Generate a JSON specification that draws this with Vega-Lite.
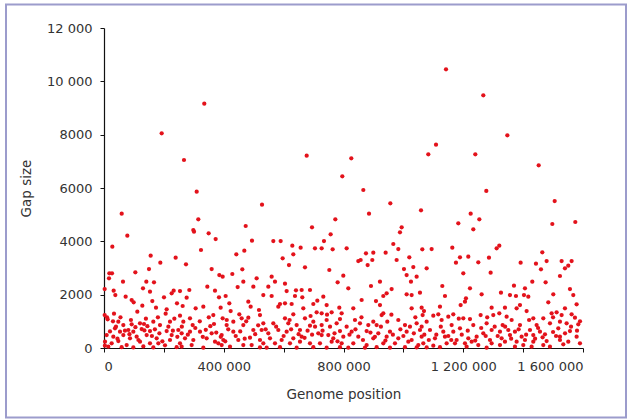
{
  "$schema": "https://vega.github.io/schema/vega-lite/v6.json",
  "width": 479,
  "height": 320,
  "autosize": {"type": "none"},
  "padding": {"left": 104, "top": 28, "right": 45, "bottom": 72},
  "background": "white",
  "config": {
    "view": {"stroke": null},
    "axis": {
      "labelFont": "DejaVu Sans", "labelFontSize": 13, "labelColor": "#333333",
      "titleFont": "DejaVu Sans", "titleFontSize": 13.5, "titleFontWeight": "normal", "titleColor": "#333333",
      "domainColor": "#111111", "domainWidth": 1.2, "tickColor": "#111111", "tickSize": 4, "grid": false
    }
  },
  "layer": [
    {
      "data": {"values": [{"frame": 1}]},
      "mark": {"type": "rect", "filled": false, "stroke": "#9c9ccc", "strokeWidth": 2, "clip": false},
      "encoding": {
        "x": {"datum": -327350, "type": "quantitative", "scale": {"domain": [0, 1600000], "nice": false},
          "axis": {"title": "Genome position", "values": [0, 200000, 400000, 600000, 800000, 1000000, 1200000, 1400000, 1600000], "labelExpr": "datum.value % 400000 == 0 ? replace(format(datum.value, ','), regexp(',', 'g'), ' ') : ''", "labelPadding": 8, "titlePadding": 14, "labelOverlap": false}},
        "x2": {"datum": 1743640},
        "y": {"datum": 12881, "type": "quantitative", "scale": {"domain": [0, 12000], "nice": false},
          "axis": {"title": "Gap size", "values": [0, 2000, 4000, 6000, 8000, 10000, 12000], "labelExpr": "datum.value >= 10000 ? replace(format(datum.value, ','), regexp(',', 'g'), ' ') : format(datum.value, 'd')", "labelPadding": 8, "titlePadding": 13}},
        "y2": {"datum": -2606}
      }
    },
    {
      "data": {"values": [
        {"pos":335000,"gap":9161},{"pos":192700,"gap":8050},{"pos":267200,"gap":7050},{"pos":309600,"gap":5862},{"pos":59100,"gap":5036},{"pos":315000,"gap":4826},{"pos":473300,"gap":4575},{"pos":527800,"gap":5375},{"pos":677000,"gap":7212},{"pos":796000,"gap":6438},{"pos":772700,"gap":4826},{"pos":694800,"gap":4525},{"pos":298300,"gap":4425},{"pos":1142400,"gap":10450},{"pos":1267000,"gap":9475},{"pos":1347200,"gap":7975},{"pos":1109000,"gap":7625},{"pos":1083300,"gap":7262},{"pos":1240300,"gap":7262},{"pos":826000,"gap":7112},{"pos":1452000,"gap":6850},{"pos":866200,"gap":5925},{"pos":1277000,"gap":5888},{"pos":956400,"gap":5425},{"pos":1505400,"gap":5512},{"pos":885200,"gap":5037},{"pos":1058900,"gap":5162},{"pos":1224800,"gap":5037},{"pos":1253700,"gap":4826},{"pos":1183500,"gap":4675},{"pos":994300,"gap":4525},{"pos":1497500,"gap":4650},{"pos":1574300,"gap":4725},{"pos":1233600,"gap":4450},
        {"pos":77930,"gap":4212},{"pos":27830,"gap":3800},{"pos":155860,"gap":3462},{"pos":239360,"gap":3387},{"pos":188150,"gap":3200},{"pos":150290,"gap":2962},{"pos":104650,"gap":2837},{"pos":17810,"gap":2800},{"pos":26720,"gap":2800},{"pos":16700,"gap":2612},{"pos":63460,"gap":2487},{"pos":141390,"gap":2487},{"pos":167000,"gap":2462},{"pos":130250,"gap":2237},{"pos":2230,"gap":2212},{"pos":32290,"gap":2150},{"pos":153640,"gap":2112},{"pos":232680,"gap":2150},{"pos":226000,"gap":2050},{"pos":253830,"gap":2137},{"pos":37850,"gap":1987},{"pos":72360,"gap":1925},{"pos":200400,"gap":1900},{"pos":92400,"gap":1800},{"pos":99080,"gap":1712},{"pos":128020,"gap":1587},{"pos":161420,"gap":1762},{"pos":243810,"gap":1675},{"pos":262740,"gap":1575},{"pos":173670,"gap":1512},{"pos":209300,"gap":1450},{"pos":111330,"gap":1362},{"pos":2230,"gap":1237},{"pos":33400,"gap":1287},{"pos":205960,"gap":1287},{"pos":253830,"gap":1212},{"pos":12250,"gap":1075},{"pos":47870,"gap":987},{"pos":64570,"gap":862},{"pos":92400,"gap":887},{"pos":120240,"gap":925},{"pos":133600,"gap":900},{"pos":164770,"gap":987},{"pos":187030,"gap":862},{"pos":220430,"gap":987},{"pos":264970,"gap":987},{"pos":36740,"gap":737},{"pos":53440,"gap":612},{"pos":81270,"gap":675},{"pos":97970,"gap":612},{"pos":125800,"gap":712},{"pos":153640,"gap":637},{"pos":209300,"gap":637},{"pos":248260,"gap":675},{"pos":8900,"gap":487},{"pos":31170,"gap":425},{"pos":64570,"gap":487},{"pos":86840,"gap":362},{"pos":109100,"gap":425},{"pos":142500,"gap":487},{"pos":175900,"gap":362},{"pos":226000,"gap":487},{"pos":259400,"gap":550},{"pos":3340,"gap":237},{"pos":25610,"gap":175},{"pos":47870,"gap":262},{"pos":75700,"gap":112},{"pos":120240,"gap":237},{"pos":153640,"gap":175},{"pos":181470,"gap":175},{"pos":220430,"gap":300},{"pos":253830,"gap":175},{"pos":14470,"gap":50},{"pos":58990,"gap":30},{"pos":97970,"gap":20},{"pos":131370,"gap":60},{"pos":164770,"gap":20},{"pos":203730,"gap":100},{"pos":242700,"gap":30},{"pos":3000,"gap":87},
        {"pos":300600,"gap":4362},{"pos":349580,"gap":4300},{"pos":372960,"gap":4087},{"pos":494310,"gap":4025},{"pos":323980,"gap":3675},{"pos":441990,"gap":3512},{"pos":468710,"gap":3650},{"pos":273880,"gap":3137},{"pos":359600,"gap":2962},{"pos":385210,"gap":2737},{"pos":396340,"gap":2675},{"pos":428630,"gap":2775},{"pos":462030,"gap":2950},{"pos":509900,"gap":2612},{"pos":345130,"gap":2300},{"pos":370740,"gap":2150},{"pos":446440,"gap":2287},{"pos":465370,"gap":2487},{"pos":498770,"gap":2300},{"pos":285010,"gap":2175},{"pos":532170,"gap":1987},{"pos":276100,"gap":1887},{"pos":384100,"gap":1900},{"pos":406360,"gap":1950},{"pos":306170,"gap":1487},{"pos":331770,"gap":1550},{"pos":389660,"gap":1512},{"pos":418610,"gap":1675},{"pos":423060,"gap":1387},{"pos":482070,"gap":1737},{"pos":489860,"gap":1550},{"pos":517700,"gap":1425},{"pos":287240,"gap":1112},{"pos":365170,"gap":1237},{"pos":396340,"gap":1112},{"pos":452000,"gap":1262},{"pos":459800,"gap":1112},{"pos":482070,"gap":1137},{"pos":521040,"gap":1237},{"pos":296150,"gap":862},{"pos":367400,"gap":900},{"pos":409700,"gap":862},{"pos":431970,"gap":987},{"pos":465370,"gap":862},{"pos":532170,"gap":925},{"pos":287240,"gap":612},{"pos":320640,"gap":612},{"pos":359600,"gap":550},{"pos":393000,"gap":487},{"pos":431970,"gap":612},{"pos":498770,"gap":675},{"pos":526600,"gap":675},{"pos":270540,"gap":362},{"pos":298370,"gap":300},{"pos":342900,"gap":362},{"pos":370740,"gap":237},{"pos":398570,"gap":300},{"pos":448670,"gap":300},{"pos":487630,"gap":387},{"pos":521040,"gap":300},{"pos":259400,"gap":50},{"pos":292800,"gap":112},{"pos":331770,"gap":10},{"pos":381870,"gap":175},{"pos":393000,"gap":112},{"pos":420840,"gap":50},{"pos":465370,"gap":112},{"pos":493200,"gap":112},{"pos":521040,"gap":20},
        {"pos":757060,"gap":4262},{"pos":565570,"gap":4012},{"pos":590060,"gap":4012},{"pos":734790,"gap":4012},{"pos":629030,"gap":3837},{"pos":656860,"gap":3762},{"pos":704730,"gap":3737},{"pos":727000,"gap":3737},{"pos":763740,"gap":3700},{"pos":632370,"gap":3512},{"pos":596740,"gap":3362},{"pos":617900,"gap":3112},{"pos":671340,"gap":3025},{"pos":752610,"gap":2925},{"pos":560000,"gap":2675},{"pos":799360,"gap":2712},{"pos":571140,"gap":2487},{"pos":604540,"gap":2412},{"pos":780440,"gap":2462},{"pos":548870,"gap":2300},{"pos":610100,"gap":2137},{"pos":641270,"gap":2162},{"pos":660200,"gap":2175},{"pos":688030,"gap":2175},{"pos":560000,"gap":1950},{"pos":637930,"gap":1950},{"pos":662420,"gap":1900},{"pos":732560,"gap":1925},{"pos":712520,"gap":1775},{"pos":587840,"gap":1650},{"pos":604540,"gap":1675},{"pos":626810,"gap":1650},{"pos":699170,"gap":1650},{"pos":743700,"gap":1612},{"pos":786000,"gap":1512},{"pos":582270,"gap":1550},{"pos":665770,"gap":1487},{"pos":710300,"gap":1337},{"pos":727000,"gap":1300},{"pos":760400,"gap":1337},{"pos":793800,"gap":1300},{"pos":632370,"gap":1262},{"pos":604540,"gap":1112},{"pos":671340,"gap":1112},{"pos":699170,"gap":987},{"pos":743700,"gap":1050},{"pos":788230,"gap":1087},{"pos":565570,"gap":925},{"pos":615670,"gap":925},{"pos":643500,"gap":862},{"pos":688030,"gap":837},{"pos":727000,"gap":862},{"pos":777100,"gap":925},{"pos":582270,"gap":675},{"pos":610100,"gap":612},{"pos":654640,"gap":675},{"pos":715870,"gap":550},{"pos":749270,"gap":487},{"pos":788230,"gap":637},{"pos":548870,"gap":550},{"pos":554440,"gap":362},{"pos":593400,"gap":300},{"pos":632370,"gap":362},{"pos":660200,"gap":425},{"pos":727000,"gap":487},{"pos":765960,"gap":362},{"pos":799360,"gap":425},{"pos":532170,"gap":175},{"pos":571140,"gap":175},{"pos":621240,"gap":175},{"pos":654640,"gap":237},{"pos":688030,"gap":175},{"pos":721430,"gap":175},{"pos":760400,"gap":237},{"pos":793800,"gap":175},{"pos":543300,"gap":10},{"pos":587840,"gap":30},{"pos":643500,"gap":10},{"pos":699170,"gap":30},{"pos":743700,"gap":10},{"pos":788230,"gap":30},
        {"pos":988630,"gap":4337},{"pos":966370,"gap":3900},{"pos":810510,"gap":3737},{"pos":875080,"gap":3550},{"pos":899570,"gap":3575},{"pos":940760,"gap":3575},{"pos":983070,"gap":3712},{"pos":1063230,"gap":3700},{"pos":849470,"gap":3262},{"pos":857260,"gap":3300},{"pos":896230,"gap":3300},{"pos":880640,"gap":3112},{"pos":977500,"gap":3300},{"pos":1019800,"gap":3400},{"pos":1002000,"gap":2962},{"pos":1033170,"gap":3037},{"pos":1010900,"gap":2737},{"pos":1044300,"gap":2675},{"pos":891780,"gap":2325},{"pos":921840,"gap":2487},{"pos":816070,"gap":2237},{"pos":1025370,"gap":2487},{"pos":960800,"gap":2212},{"pos":944100,"gap":2050},{"pos":932970,"gap":1950},{"pos":860600,"gap":1800},{"pos":908480,"gap":1762},{"pos":1010900,"gap":2012},{"pos":1027600,"gap":1987},{"pos":1055430,"gap":2075},{"pos":921840,"gap":1612},{"pos":832770,"gap":1487},{"pos":1027600,"gap":1487},{"pos":1061000,"gap":1512},{"pos":927400,"gap":1237},{"pos":932970,"gap":1300},{"pos":838340,"gap":1050},{"pos":855040,"gap":925},{"pos":899570,"gap":987},{"pos":946330,"gap":987},{"pos":983070,"gap":1050},{"pos":1005330,"gap":862},{"pos":1044300,"gap":925},{"pos":1064340,"gap":1237},{"pos":810510,"gap":800},{"pos":882870,"gap":862},{"pos":910700,"gap":862},{"pos":1022040,"gap":800},{"pos":827200,"gap":612},{"pos":877300,"gap":637},{"pos":916270,"gap":550},{"pos":955240,"gap":612},{"pos":1010900,"gap":612},{"pos":1055430,"gap":675},{"pos":849470,"gap":425},{"pos":899570,"gap":362},{"pos":944100,"gap":425},{"pos":983070,"gap":362},{"pos":1027600,"gap":300},{"pos":1060990,"gap":425},{"pos":832770,"gap":175},{"pos":877300,"gap":112},{"pos":932970,"gap":175},{"pos":971930,"gap":175},{"pos":1016470,"gap":237},{"pos":1049870,"gap":112},{"pos":816070,"gap":10},{"pos":871740,"gap":10},{"pos":910700,"gap":30},{"pos":955240,"gap":10},{"pos":1005330,"gap":30},{"pos":1044300,"gap":20},
        {"pos":1094400,"gap":3712},{"pos":1163420,"gap":3762},{"pos":1320400,"gap":3837},{"pos":1311500,"gap":3737},{"pos":1189040,"gap":3400},{"pos":1216870,"gap":3425},{"pos":1285900,"gap":3387},{"pos":1175680,"gap":3200},{"pos":1250270,"gap":3212},{"pos":1077710,"gap":2987},{"pos":1200170,"gap":2800},{"pos":1291460,"gap":2825},{"pos":1130030,"gap":2325},{"pos":1222430,"gap":2237},{"pos":1138940,"gap":1950},{"pos":1209070,"gap":1862},{"pos":1261400,"gap":2012},{"pos":1325970,"gap":2075},{"pos":1191270,"gap":1612},{"pos":1205740,"gap":1737},{"pos":1122240,"gap":1550},{"pos":1294800,"gap":1512},{"pos":1068800,"gap":1387},{"pos":1099970,"gap":1212},{"pos":1116670,"gap":1262},{"pos":1150070,"gap":1175},{"pos":1166770,"gap":1262},{"pos":1200170,"gap":1112},{"pos":1222430,"gap":1087},{"pos":1258060,"gap":1237},{"pos":1300370,"gap":1237},{"pos":1320400,"gap":1300},{"pos":1077710,"gap":987},{"pos":1127810,"gap":1050},{"pos":1161200,"gap":862},{"pos":1233570,"gap":862},{"pos":1278100,"gap":925},{"pos":1331540,"gap":862},{"pos":1061010,"gap":800},{"pos":1088840,"gap":675},{"pos":1133370,"gap":612},{"pos":1166770,"gap":612},{"pos":1189040,"gap":737},{"pos":1266970,"gap":550},{"pos":1294800,"gap":675},{"pos":1322630,"gap":612},{"pos":1105540,"gap":362},{"pos":1138940,"gap":425},{"pos":1177900,"gap":300},{"pos":1216870,"gap":362},{"pos":1244700,"gap":425},{"pos":1289230,"gap":300},{"pos":1328200,"gap":362},{"pos":1066570,"gap":175},{"pos":1099970,"gap":87},{"pos":1144500,"gap":175},{"pos":1172340,"gap":175},{"pos":1205740,"gap":175},{"pos":1228010,"gap":237},{"pos":1250270,"gap":112},{"pos":1294800,"gap":175},{"pos":1322630,"gap":112},{"pos":1077710,"gap":20},{"pos":1122240,"gap":30},{"pos":1211300,"gap":50},{"pos":1278100,"gap":10},
        {"pos":1464030,"gap":3587},{"pos":1391660,"gap":3200},{"pos":1442880,"gap":3162},{"pos":1478500,"gap":3262},{"pos":1528600,"gap":3262},{"pos":1562000,"gap":3262},{"pos":1459580,"gap":2950},{"pos":1539730,"gap":2987},{"pos":1550860,"gap":3087},{"pos":1523030,"gap":2700},{"pos":1430630,"gap":2487},{"pos":1475160,"gap":2462},{"pos":1369400,"gap":2337},{"pos":1406140,"gap":2237},{"pos":1556430,"gap":2212},{"pos":1356040,"gap":1987},{"pos":1376080,"gap":1950},{"pos":1402800,"gap":1987},{"pos":1417270,"gap":1925},{"pos":1500770,"gap":2012},{"pos":1567570,"gap":1987},{"pos":1484070,"gap":1712},{"pos":1389440,"gap":1612},{"pos":1378300,"gap":1487},{"pos":1339340,"gap":1512},{"pos":1578700,"gap":1637},{"pos":1411700,"gap":1387},{"pos":1539730,"gap":1487},{"pos":1511900,"gap":1337},{"pos":1495200,"gap":1300},{"pos":1528600,"gap":1237},{"pos":1562000,"gap":1262},{"pos":1344910,"gap":1175},{"pos":1361610,"gap":1050},{"pos":1433970,"gap":1112},{"pos":1467370,"gap":1112},{"pos":1573140,"gap":1137},{"pos":1389440,"gap":862},{"pos":1445100,"gap":862},{"pos":1489640,"gap":925},{"pos":1523030,"gap":987},{"pos":1545300,"gap":925},{"pos":1584260,"gap":887},{"pos":1350470,"gap":675},{"pos":1372740,"gap":612},{"pos":1422840,"gap":675},{"pos":1456240,"gap":612},{"pos":1517470,"gap":737},{"pos":1556430,"gap":637},{"pos":1356040,"gap":487},{"pos":1395010,"gap":425},{"pos":1433970,"gap":487},{"pos":1472940,"gap":512},{"pos":1523030,"gap":425},{"pos":1578700,"gap":425},{"pos":1339340,"gap":237},{"pos":1378300,"gap":237},{"pos":1406140,"gap":300},{"pos":1433970,"gap":237},{"pos":1478500,"gap":262},{"pos":1523030,"gap":300},{"pos":1550860,"gap":237},{"pos":1372740,"gap":50},{"pos":1400570,"gap":112},{"pos":1428400,"gap":50},{"pos":1467370,"gap":112},{"pos":1489640,"gap":50},{"pos":1534160,"gap":137},{"pos":1589830,"gap":175},
        {"pos":10000,"gap":1150},{"pos":20000,"gap":620},{"pos":40000,"gap":800},{"pos":45000,"gap":350},{"pos":70000,"gap":650},{"pos":85000,"gap":520},{"pos":105000,"gap":780},{"pos":115000,"gap":300},{"pos":135000,"gap":660},{"pos":145000,"gap":820},{"pos":160000,"gap":450},{"pos":170000,"gap":700},{"pos":185000,"gap":550},{"pos":195000,"gap":250},{"pos":215000,"gap":800},{"pos":230000,"gap":650},{"pos":245000,"gap":420},{"pos":260000,"gap":800},{"pos":30000,"gap":1000},{"pos":55000,"gap":1150},{"pos":90000,"gap":1050},{"pos":140000,"gap":1100},{"pos":180000,"gap":1150},{"pos":235000,"gap":1100},
        {"pos":280000,"gap":500},{"pos":305000,"gap":750},{"pos":330000,"gap":420},{"pos":340000,"gap":680},{"pos":355000,"gap":820},{"pos":375000,"gap":580},{"pos":390000,"gap":420},{"pos":405000,"gap":250},{"pos":415000,"gap":700},{"pos":440000,"gap":450},{"pos":455000,"gap":620},{"pos":470000,"gap":350},{"pos":505000,"gap":520},{"pos":515000,"gap":850},{"pos":540000,"gap":700},{"pos":320000,"gap":1000},{"pos":410000,"gap":1050},{"pos":475000,"gap":1000},{"pos":350000,"gap":1150},
        {"pos":575000,"gap":800},{"pos":600000,"gap":450},{"pos":625000,"gap":700},{"pos":650000,"gap":520},{"pos":670000,"gap":380},{"pos":680000,"gap":650},{"pos":695000,"gap":500},{"pos":705000,"gap":800},{"pos":730000,"gap":650},{"pos":755000,"gap":800},{"pos":770000,"gap":550},{"pos":780000,"gap":250},{"pos":620000,"gap":1050},{"pos":690000,"gap":1200},{"pos":745000,"gap":1250},
        {"pos":820000,"gap":500},{"pos":840000,"gap":700},{"pos":865000,"gap":300},{"pos":890000,"gap":580},{"pos":905000,"gap":420},{"pos":925000,"gap":800},{"pos":940000,"gap":280},{"pos":965000,"gap":500},{"pos":990000,"gap":700},{"pos":1000000,"gap":450},{"pos":1035000,"gap":550},{"pos":1070000,"gap":500},{"pos":1085000,"gap":300},{"pos":860000,"gap":1150},{"pos":960000,"gap":1250},{"pos":1040000,"gap":1150},
        {"pos":1110000,"gap":500},{"pos":1125000,"gap":800},{"pos":1150000,"gap":450},{"pos":1160000,"gap":300},{"pos":1195000,"gap":500},{"pos":1215000,"gap":650},{"pos":1240000,"gap":280},{"pos":1260000,"gap":750},{"pos":1275000,"gap":450},{"pos":1305000,"gap":800},{"pos":1315000,"gap":450},{"pos":1340000,"gap":800},{"pos":1360000,"gap":350},{"pos":1385000,"gap":700},{"pos":1410000,"gap":500},{"pos":1440000,"gap":350},{"pos":1450000,"gap":750},{"pos":1465000,"gap":400},{"pos":1500000,"gap":600},{"pos":1510000,"gap":450},{"pos":1540000,"gap":550},{"pos":1560000,"gap":800},{"pos":1580000,"gap":650},{"pos":1590000,"gap":1000},{"pos":1185000,"gap":1100},{"pos":1280000,"gap":1150},{"pos":1420000,"gap":1050},{"pos":1500000,"gap":1150}
      ]},
      "mark": {"type": "circle", "size": 18, "color": "#e3121b", "opacity": 1},
      "encoding": {
        "x": {"field": "pos", "type": "quantitative", "scale": {"domain": [0, 1600000], "nice": false},
          "axis": {"title": "Genome position", "values": [0, 200000, 400000, 600000, 800000, 1000000, 1200000, 1400000, 1600000], "labelExpr": "datum.value % 400000 == 0 ? replace(format(datum.value, ','), regexp(',', 'g'), ' ') : ''", "labelPadding": 8, "titlePadding": 14, "labelOverlap": false}},
        "y": {"field": "gap", "type": "quantitative", "scale": {"domain": [0, 12000], "nice": false},
          "axis": {"title": "Gap size", "values": [0, 2000, 4000, 6000, 8000, 10000, 12000], "labelExpr": "datum.value >= 10000 ? replace(format(datum.value, ','), regexp(',', 'g'), ' ') : format(datum.value, 'd')", "labelPadding": 8, "titlePadding": 13}}
      }
    }
  ]
}
